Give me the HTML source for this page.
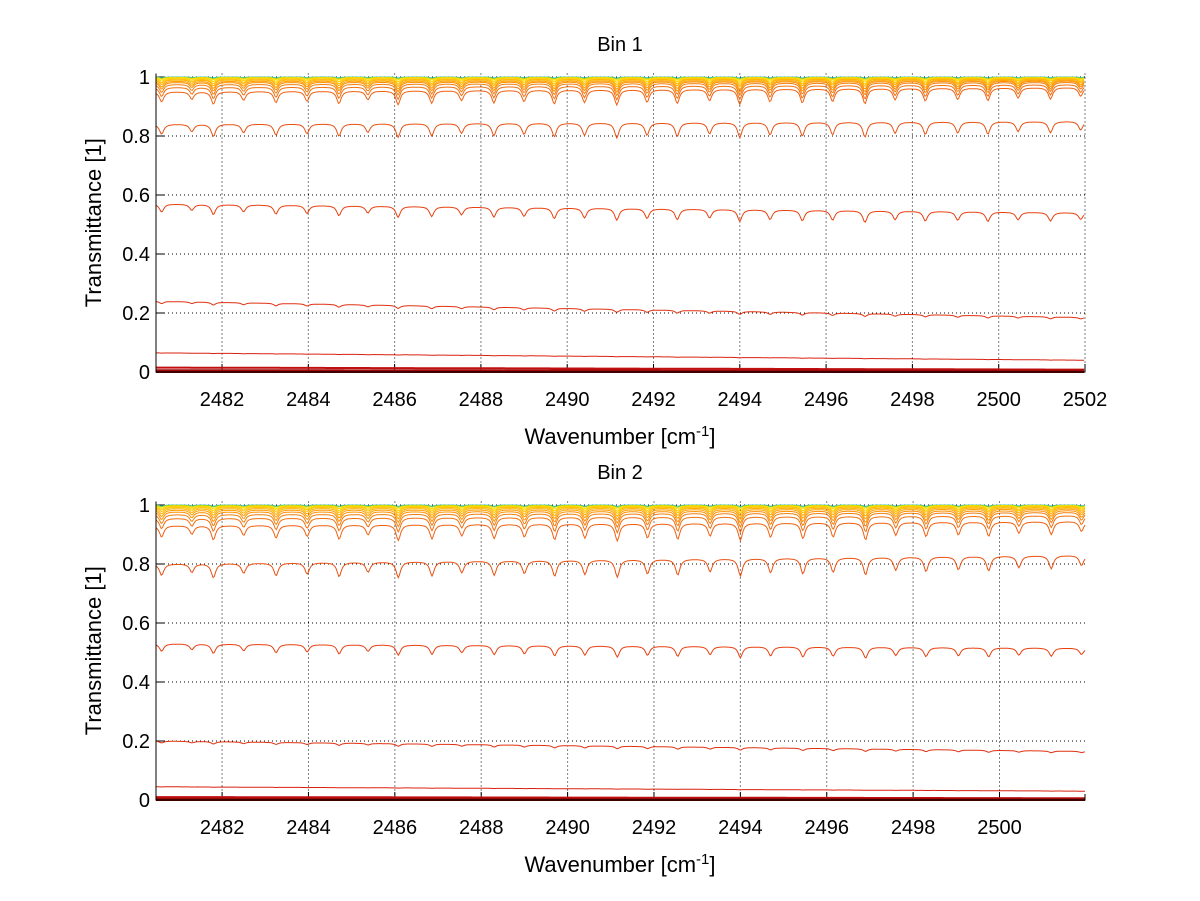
<!DOCTYPE html>
<html><head><meta charset="utf-8"><style>
body{margin:0;background:#fff}
svg{display:block;font-family:"Liberation Sans",sans-serif}
</style></head><body>
<svg id="c" width="1200" height="901" viewBox="0 0 1200 901"></svg>
<script>
// ---- data ----
const lineCenters=[2480.6,2481.3,2481.8,2482.5,2483.25,2483.97,2484.71,2485.38,2486.08,2486.86,2487.55,2488.3,2489.0,2489.7,2490.4,2491.15,2491.85,2492.55,2493.3,2494.0,2494.7,2495.45,2496.15,2496.9,2497.6,2498.3,2499.05,2499.75,2500.45,2501.2,2501.9];
const lineDepths=[0.8,0.6,1.0,0.7,0.9,0.8,1.0,0.7,1.1,1.0,0.8,1.0,0.9,1.1,1.0,1.2,1.0,1.1,0.9,1.2,1.0,1.1,1.0,1.2,0.9,1.0,0.9,1.0,0.8,0.9,0.7];
const bin1Start=[1.0,0.999,0.998,0.996,0.993,0.99,0.986,0.982,0.975,0.965,0.95,0.84,0.57,0.24,0.065,0.015,0.006,0.0];
const bin1End=[1.0,0.999,0.998,0.997,0.995,0.993,0.99,0.987,0.983,0.975,0.965,0.85,0.54,0.185,0.04,0.008,0.004,0.0];
const bin1Dip=[0.003,0.005,0.008,0.012,0.016,0.02,0.025,0.03,0.035,0.04,0.045,0.05,0.06,0.04,0.015,0.0,0.0,0.0];
const bin2Start=[1.0,0.999,0.997,0.995,0.992,0.988,0.983,0.977,0.968,0.955,0.93,0.80,0.53,0.20,0.045,0.01,0.004,0.0];
const bin2End=[1.0,0.999,0.998,0.996,0.994,0.991,0.987,0.982,0.976,0.965,0.945,0.83,0.515,0.165,0.03,0.006,0.003,0.0];
const bin2Dip=[0.004,0.006,0.01,0.014,0.018,0.023,0.028,0.034,0.04,0.046,0.052,0.06,0.06,0.04,0.015,0.0,0.0,0.0];
const seriesColors=["#20c0c0","#a0d020","#ffe000","#ffd000","#ffc000","#ffb000","#ffa000","#ff9000","#f08010","#f07010","#f06010","#e85010","#e84010","#e03010","#d82010","#c01010","#a00808","#800000"];
const xTicks=[2482,2484,2486,2488,2490,2492,2494,2496,2498,2500,2502];
const yTicks=[0,0.2,0.4,0.6,0.8,1];

const NS="http://www.w3.org/2000/svg";
const svg=document.getElementById('c');
function mk(t,a,p){const e=document.createElementNS(NS,t);for(const k in a)e.setAttribute(k,a[k]);(p||svg).appendChild(e);return e;}

function panel(title,top,bottom,xmax,showLast,starts,ends,dips,id){
  const L=156,R=1085,xmin=2480.47;
  const ymax=1.012;
  const sx=v=>L+(v-xmin)/(xmax-xmin)*(R-L);
  const y1=top+3;
  const sy=v=>bottom-(v/1)*(bottom-y1);
  const g=mk('g',{});
  
  
  const tt=mk('text',{x:620,y:top-23,'font-size':20,'text-anchor':'middle'},g);tt.textContent=title;
  
  
  const axTop=sy(ymax);
  xTicks.forEach(v=>{ if(v>xmax)return; const x=sx(v);
    const gl=mk('line',{x1:x,x2:x,y1:axTop,y2:bottom,stroke:'#000','stroke-width':1,'stroke-dasharray':'1,3'},g);
    
    
    mk('line',{x1:x,x2:x,y1:bottom,y2:bottom-8,stroke:'#000'},g);
    const t=mk('text',{x:x,y:bottom+34,'font-size':20,'text-anchor':'middle'},g);t.textContent=v;
    
    
  });
  yTicks.forEach(v=>{const y=sy(v);
    if(v>0){const gl=mk('line',{x1:L,x2:R,y1:y,y2:y,stroke:'#000','stroke-width':1,'stroke-dasharray':'1,3'},g);
    
    }
    mk('line',{x1:L,x2:L+8,y1:y,y2:y,stroke:'#000'},g);
    const t=mk('text',{x:L-6,y:y+7,'font-size':20,'text-anchor':'end'},g);t.textContent=String(v);
    
    
  });
  for(let k=0;k<starts.length;k++){
    let d='';
    for(let w=xmin;w<=xmax+1e-9;w+=0.03){
      const f=(w-xmin)/(xmax-xmin);
      let base=starts[k]+(ends[k]-starts[k])*f;
      let a=0;
      for(let j=0;j<lineCenters.length;j++){const z=(w-lineCenters[j])/0.06;a+=lineDepths[j]/(1+z*z);}
      let v=base*(1-dips[k]*a);
      if(v>1.005)v=1.005;
      d+=(d?'L':'M')+sx(w).toFixed(1)+','+sy(v).toFixed(1);
    }
    const p=mk('path',{d:d,fill:'none',stroke:seriesColors[k],'stroke-width':k>=15?2:1},g);
    
    
  }
  const ax=mk('path',{d:`M${L},${axTop}V${bottom}H${R}V${bottom-6}`,fill:'none',stroke:'#000','stroke-width':1},g);
  
  
  const xl=mk('text',{x:620,y:bottom+72,'font-size':22,'text-anchor':'middle'},g);
  xl.innerHTML='Wavenumber [cm<tspan dy="-8" font-size="15">-1</tspan><tspan dy="8">]</tspan>';
  
  
  const yl=mk('text',{x:0,y:0,'font-size':22,'text-anchor':'middle',transform:`translate(101,${(axTop+bottom)/2}) rotate(-90)`},g);
  yl.textContent='Transmittance [1]';
  
  
}
panel('Bin 1',74,372,2502.0,true,bin1Start,bin1End,bin1Dip,'bin1');
panel('Bin 2',502,800,2501.98,false,bin2Start,bin2End,bin2Dip,'bin2');
</script>
</body></html>
